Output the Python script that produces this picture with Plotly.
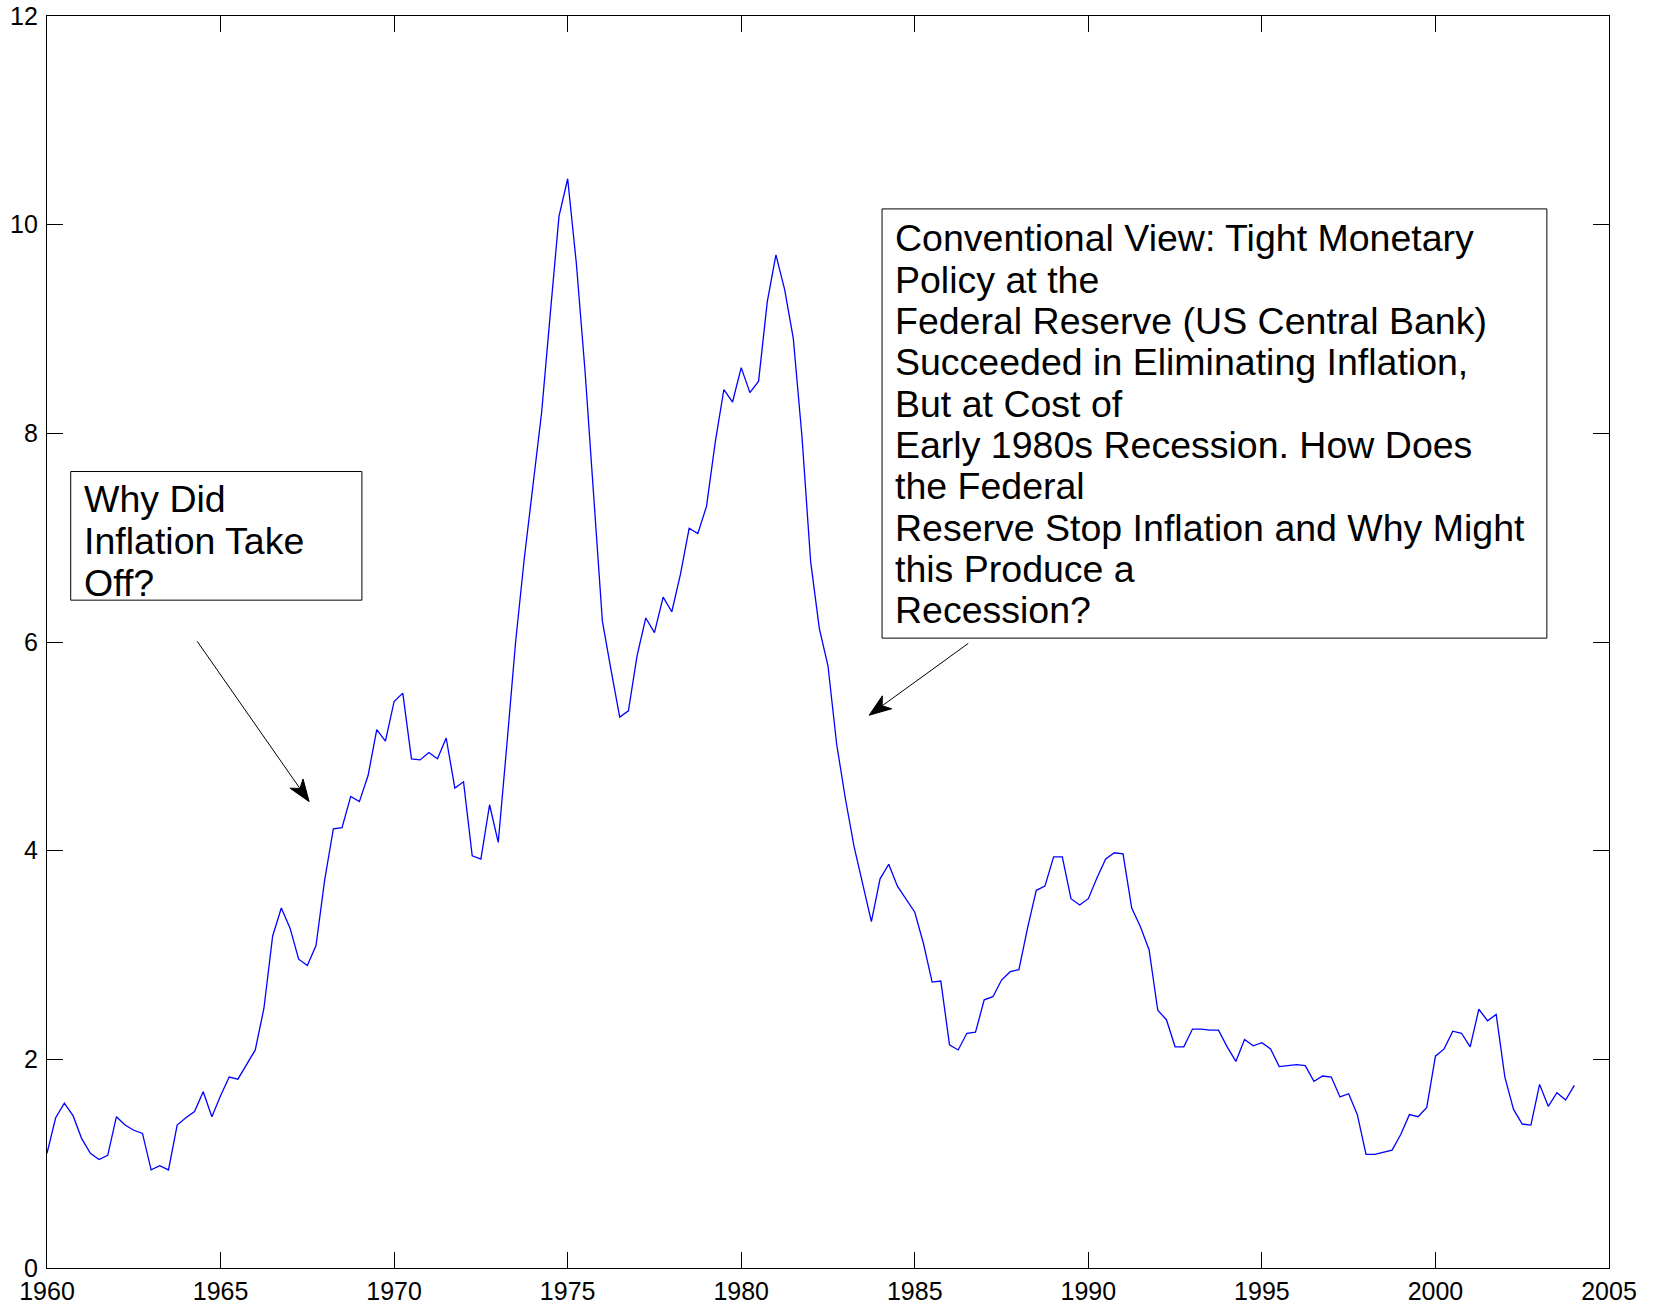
import math
import plotly.graph_objects as go

# Quarterly inflation rate, 1960Q1 .. 2004Q1
start_year = 1960
inflation = [
    1.10, 1.44, 1.58, 1.46,   # 1960
    1.24, 1.10, 1.04, 1.08,   # 1961
    1.45, 1.37, 1.32, 1.29,   # 1962
    0.94, 0.98, 0.94, 1.37,   # 1963
    1.44, 1.50, 1.69, 1.45,   # 1964
    1.65, 1.83, 1.81, 1.95,   # 1965
    2.09, 2.49, 3.18, 3.45,   # 1966
    3.26, 2.96, 2.90, 3.09,   # 1967
    3.72, 4.21, 4.22, 4.52,   # 1968
    4.47, 4.72, 5.16, 5.05,   # 1969
    5.43, 5.51, 4.88, 4.87,   # 1970
    4.94, 4.88, 5.08, 4.60,   # 1971
    4.66, 3.95, 3.92, 4.44,   # 1972
    4.08, 5.02, 6.00, 6.80,   # 1973
    7.50, 8.20, 9.15, 10.08,  # 1974
    10.44, 9.63, 8.60, 7.40,  # 1975
    6.20, 5.73, 5.28, 5.34,   # 1976
    5.87, 6.23, 6.09, 6.43,   # 1977
    6.29, 6.65, 7.09, 7.04,   # 1978
    7.30, 7.91, 8.42, 8.30,   # 1979
    8.63, 8.39, 8.50, 9.26,   # 1980
    9.71, 9.38, 8.91, 7.97,   # 1981
    6.77, 6.13, 5.77, 5.02,   # 1982
    4.50, 4.04, 3.69, 3.32,   # 1983
    3.73, 3.87, 3.66, 3.53,   # 1984
    3.41, 3.11, 2.74, 2.75,   # 1985
    2.14, 2.09, 2.25, 2.26,   # 1986
    2.57, 2.60, 2.76, 2.84,   # 1987
    2.86, 3.26, 3.62, 3.66,   # 1988
    3.94, 3.94, 3.54, 3.48,   # 1989
    3.54, 3.74, 3.92, 3.98,   # 1990
    3.97, 3.45, 3.27, 3.05,   # 1991
    2.47, 2.38, 2.12, 2.12,   # 1992
    2.29, 2.29, 2.28, 2.28,   # 1993
    2.12, 1.98, 2.19, 2.13,   # 1994
    2.16, 2.10, 1.93, 1.94,   # 1995
    1.95, 1.94, 1.79, 1.84,   # 1996
    1.83, 1.64, 1.67, 1.47,   # 1997
    1.09, 1.09, 1.11, 1.13,   # 1998
    1.28, 1.47, 1.45, 1.54,   # 1999
    2.03, 2.10, 2.27, 2.25,   # 2000
    2.12, 2.48, 2.37, 2.43,   # 2001
    1.83, 1.52, 1.38, 1.37,   # 2002
    1.76, 1.55, 1.68, 1.61,   # 2003
    1.75,                     # 2004
]
dates = [start_year + i / 4 for i in range(len(inflation))]

x_ticks = [1960, 1965, 1970, 1975, 1980, 1985, 1990, 1995, 2000, 2005]
y_ticks = [0, 2, 4, 6, 8, 10, 12]

left_note = ["Why Did", "Inflation Take", "Off?"]
right_note = [
    "Conventional View: Tight Monetary",
    "Policy at the",
    "Federal Reserve (US Central Bank)",
    "Succeeded in Eliminating Inflation,",
    "But at Cost of",
    "Early 1980s Recession. How Does",
    "the Federal",
    "Reserve Stop Inflation and Why Might",
    "this Produce a",
    "Recession?",
]

FONT = "Liberation Sans, Arial, Helvetica, sans-serif"

W, H = 1654, 1307
ML, MR, MT, MB = 47, 45, 16, 39
X0, X1 = 1960, 2005
Y0, Y1 = 0, 12
PW, PH = W - ML - MR, H - MT - MB


def to_data(px, py):
    return (X0 + (px - ML) / PW * (X1 - X0), Y1 - (py - MT) / PH * (Y1 - Y0))


fig = go.Figure()
fig.add_trace(go.Scatter(
    x=dates, y=inflation, mode="lines",
    line=dict(color="#0000FF", width=1.3),
    showlegend=False, hoverinfo="skip",
))

# Text boxes
fig.add_shape(type="rect", xref="x", yref="y",
              x0=1960.683, x1=1969.072, y0=6.401, y1=7.634,
              line=dict(color="black", width=1), fillcolor="white", layer="above")
fig.add_shape(type="rect", xref="x", yref="y",
              x0=1984.057, x1=2003.210, y0=6.037, y1=10.151,
              line=dict(color="black", width=1), fillcolor="white", layer="above")

annotations = []
for i, line in enumerate(left_note):
    annotations.append(dict(
        x=1961.02, y=7.37 - 0.401 * i, xref="x", yref="y",
        text=line, showarrow=False, xanchor="left", yanchor="middle",
        font=dict(family=FONT, size=37.5, color="black"),
    ))
for i, line in enumerate(right_note):
    annotations.append(dict(
        x=1984.38, y=9.869 - 0.3963 * i, xref="x", yref="y",
        text=line, showarrow=False, xanchor="left", yanchor="middle",
        font=dict(family=FONT, size=37.5, color="black"),
    ))


def add_arrow(tail, tip, L=22, Wd=8, notch=6):
    dx, dy = tip[0] - tail[0], tip[1] - tail[1]
    d = math.hypot(dx, dy)
    ux, uy = dx / d, dy / d
    nx, ny = -uy, ux
    back = (tip[0] - L * ux, tip[1] - L * uy)
    c1 = (back[0] + Wd * nx, back[1] + Wd * ny)
    c2 = (back[0] - Wd * nx, back[1] - Wd * ny)
    nb = (tip[0] - (L - notch) * ux, tip[1] - (L - notch) * uy)
    a = to_data(*tail)
    b = to_data(*nb)
    fig.add_shape(type="line", xref="x", yref="y", x0=a[0], y0=a[1], x1=b[0], y1=b[1],
                  line=dict(color="black", width=1))
    pts = [to_data(*p) for p in (tip, c1, nb, c2)]
    path = "M " + " L ".join(f"{p[0]:.4f},{p[1]:.4f}" for p in pts) + " Z"
    fig.add_shape(type="path", xref="x", yref="y", path=path,
                  fillcolor="black", line=dict(color="black", width=1))


# Arrow positions (pixel space on the 1654x1307 canvas)
add_arrow((197.2, 641.3), (309.1, 801.6))
add_arrow((968.3, 643.4), (869.2, 715.2))

fig.update_layout(
    width=W, height=H,
    margin=dict(l=ML, r=MR, t=MT, b=MB, autoexpand=False),
    paper_bgcolor="white", plot_bgcolor="white",
    font=dict(family=FONT, size=25, color="black"),
    annotations=annotations,
    showlegend=False,
)
fig.update_xaxes(
    range=[X0, X1], tickvals=x_ticks, ticktext=[str(t) for t in x_ticks],
    ticks="inside", ticklen=16, tickwidth=1, tickcolor="black",
    showline=True, linecolor="black", linewidth=1.3, mirror="ticks",
    showgrid=False, zeroline=False, ticklabelstandoff=1, automargin=False,
    tickfont=dict(family=FONT, size=25, color="black"),
)
fig.update_yaxes(
    range=[Y0, Y1], tickvals=y_ticks, ticktext=[str(t) for t in y_ticks],
    ticks="inside", ticklen=16, tickwidth=1, tickcolor="black",
    showline=True, linecolor="black", linewidth=1.3, mirror="ticks",
    showgrid=False, zeroline=False, ticklabelstandoff=3, automargin=False,
    tickfont=dict(family=FONT, size=25, color="black"),
)

fig.write_html(
    "out.html",
    config={"displayModeBar": False},
    post_script="document.body.style.margin='0';document.body.style.overflow='hidden';",
)
